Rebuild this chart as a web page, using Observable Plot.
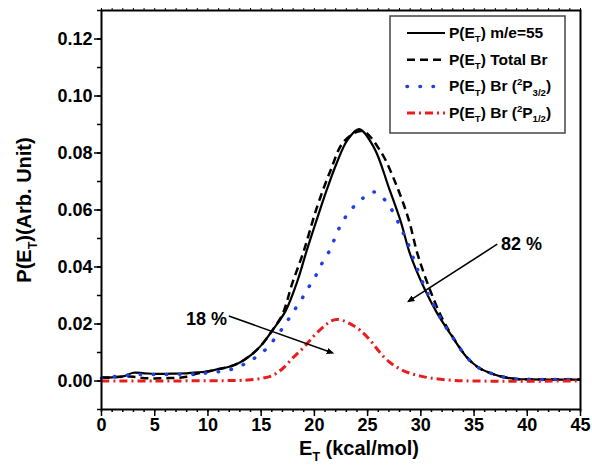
<!DOCTYPE html>
<html><head><meta charset="utf-8">
<script src="https://cdn.jsdelivr.net/npm/d3@7"></script>
<script src="https://cdn.jsdelivr.net/npm/@observablehq/plot@0.6"></script>
<style>body{margin:0;background:#fff;} #chart{width:592px;height:465px;}</style>
</head><body><div id="chart"></div>
<script>
// ---- data ----
const m55X = [0,1,2,3,4,5,6,7,8,9,10,11,12,13,14,15,16,17.3,18.4,19.3,20.3,21.2,22.1,23.1,24.2,25.6,27.0,28.1,29.0,30.3,31.5,32.8,34.35,35.5,36.9,38,39,40,42,45];
const m55Y = [0.0012,0.0013,0.0016,0.0029,0.0027,0.0025,0.0025,0.0026,0.0027,0.003,0.0034,0.0042,0.005,0.0065,0.009,0.0125,0.0175,0.0246,0.035,0.046,0.0575,0.0675,0.0765,0.0845,0.0884,0.0819,0.0678,0.0561,0.0444,0.0327,0.024,0.0164,0.0082,0.0045,0.0023,0.0012,0.0007,0.0006,0.0005,0.0005];

const totalX = [0,1,2,3,4,5,6,7,8,9,10,11,12,13,14,15,16,17.0,17.9,19.0,20.2,21.5,22.8,24.5,26.2,27.8,28.9,29.7,30.9,32,33,34.35,35.5,36.9,38,39,40,42,45];
const totalY = [0.0012,0.0013,0.0015,0.0015,0.001,0.0009,0.001,0.0011,0.0015,0.0026,0.0033,0.0042,0.005,0.0065,0.009,0.0125,0.0175,0.0234,0.034,0.0456,0.0605,0.0737,0.0842,0.0877,0.0807,0.0678,0.0561,0.0444,0.0316,0.022,0.0155,0.0082,0.0045,0.0023,0.0012,0.0007,0.0006,0.0005,0.0005];

const p32X = [0,1,2,3,4,6,8,9.3,10.5,11.8,13.06,14.2,15.4,16.35,17.2,18.0,18.8,19.5,20.2,20.8,21.5,22.0,22.6,23.4,24.5,25.6,26.7,27.5,28.1,28.7,29.5,30.4,31.1,32.0,32.8,34.35,35.5,36.9,38,39,40,42,45];
const p32Y = [0.001,0.0015,0.0019,0.0022,0.0023,0.0023,0.0024,0.0026,0.0031,0.0037,0.0053,0.0076,0.011,0.0152,0.0196,0.0242,0.0287,0.0331,0.0374,0.0419,0.0462,0.0509,0.0556,0.0599,0.064,0.0663,0.0632,0.0585,0.0538,0.0491,0.041,0.0327,0.0275,0.021,0.0164,0.0082,0.0045,0.0023,0.0012,0.0007,0.0006,0.0005,0.0005];

const p12X = [0,5,10,13,14,15,16,17,18,19,20,21,21.6,22.1,22.7,23.5,24.3,25.3,26.05,27,28.1,29,30,31,32.8,35,45];
const p12Y = [0,0,0.0001,0.0002,0.0004,0.0009,0.0018,0.0043,0.0082,0.0118,0.016,0.0195,0.0211,0.0216,0.0212,0.0198,0.0178,0.014,0.0105,0.0068,0.0041,0.0027,0.0017,0.001,0.0003,0,0];

const xMajor = [0,5,10,15,20,25,30,35,40,45];
const xMinor = d3.range(0, 46, 1);
const yMajor = [0,0.02,0.04,0.06,0.08,0.10,0.12];
const yMinor = [-0.01,0,0.01,0.02,0.03,0.04,0.05,0.06,0.07,0.08,0.09,0.10,0.11,0.12,0.13];

const annoLabels = [{x: 9.86, y: 0.0218, text: "18 %"}, {x: 39.46, y: 0.048, text: "82 %"}];
const annoArrows = [{x1: 11.96, y1: 0.0228, x2: 21.67, y2: 0.0099}, {x1: 37.18, y1: 0.048, x2: 28.87, y2: 0.028}];

const series = [
  {key: "m55", x: m55X, y: m55Y, stroke: "#000000", width: 2.2, dash: null, cap: "butt",
   label: [{t: "P(E"}, {t: "T", s: "sub"}, {t: ") m/e=55"}]},
  {key: "total", x: totalX, y: totalY, stroke: "#000000", width: 2.5, dash: "8,5", cap: "butt",
   label: [{t: "P(E"}, {t: "T", s: "sub"}, {t: ") Total Br"}]},
  {key: "p32", x: p32X, y: p32Y, stroke: "#1f3fe6", width: 3.5, dash: "0.5,12.5", cap: "round",
   label: [{t: "P(E"}, {t: "T", s: "sub"}, {t: ") Br ("}, {t: "2", s: "sup"}, {t: "P"}, {t: "3/2", s: "sub"}, {t: ")"}]},
  {key: "p12", x: p12X, y: p12Y, stroke: "#ec1c1c", width: 3, dash: "8,4,2,4", cap: "butt",
   label: [{t: "P(E"}, {t: "T", s: "sub"}, {t: ") Br ("}, {t: "2", s: "sup"}, {t: "P"}, {t: "1/2", s: "sub"}, {t: ")"}]}
];

const font = "'Liberation Sans', Arial, Helvetica, sans-serif";

const lineMarks = series.map(s => Plot.line(s.x.map((x, i) => ({x, y: s.y[i]})), {
  x: "x", y: "y", stroke: s.stroke, strokeWidth: s.width, strokeDasharray: s.dash,
  strokeLinecap: s.cap, curve: "catmull-rom"
}));

const plot = Plot.plot({
  width: 592, height: 465,
  marginLeft: 101, marginRight: 12, marginTop: 10, marginBottom: 56,
  style: {fontFamily: font, fontWeight: "bold", fontSize: "18px", color: "#000", background: "#fff", overflow: "visible"},
  x: {domain: [0, 45]},
  y: {domain: [-0.01, 0.13]},
  marks: [
    Plot.axisX({ticks: xMinor, tickSize: 3, tickFormat: () => "", label: null, strokeWidth: 1.5}),
    Plot.axisX({ticks: xMajor, tickSize: 7, tickPadding: 2, tickFormat: d => String(d), label: null, strokeWidth: 1.5, fontSize: 18}),
    Plot.axisX({anchor: "top", ticks: xMinor, tickSize: 3, tickFormat: () => "", label: null, strokeWidth: 1}),
    Plot.axisY({ticks: yMinor, tickSize: 4, tickFormat: () => "", label: null, strokeWidth: 1.5}),
    Plot.axisY({ticks: yMajor, tickSize: 7, tickPadding: 2, tickFormat: d3.format(".2f"), label: null, strokeWidth: 1.5, fontSize: 18}),
    ...lineMarks,
    Plot.link(annoArrows, {x1: "x1", y1: "y1", x2: "x2", y2: "y2", stroke: "#000", strokeWidth: 1.6, markerEnd: "arrow"}),
    Plot.text(annoLabels, {x: "x", y: "y", text: "text", fontSize: 18, fontWeight: "bold", fill: "#000"}),
    Plot.frame({stroke: "#000", strokeWidth: 2})
  ]
});

const svg = d3.select(plot);
// filled arrowheads
svg.selectAll("marker path").attr("d", "M-5,-3L2,0L-5,3Z").attr("fill", "#000").attr("stroke", "none");

function rich(textSel, parts, size) {
  let cur = 0;
  parts.forEach(p => {
    const target = p.s === "sub" ? size * 0.28 : p.s === "sup" ? -size * 0.42 : 0;
    const ts = textSel.append("tspan").text(p.t).attr("dy", target - cur);
    if (p.s) ts.attr("font-size", size * 0.62);
    cur = target;
  });
}

// axis titles
const xt = svg.append("text").attr("x", 359).attr("y", 455).attr("text-anchor", "middle")
  .attr("font-size", 20).attr("font-weight", "bold").attr("font-family", font).attr("fill", "#000");
rich(xt, [{t: "E"}, {t: "T", s: "sub"}, {t: " (kcal/mol)"}], 20);

const yt = svg.append("text").attr("transform", "translate(31,210) rotate(-90)").attr("text-anchor", "middle")
  .attr("font-size", 20).attr("font-weight", "bold").attr("font-family", font).attr("fill", "#000");
rich(yt, [{t: "P(E"}, {t: "T", s: "sub"}, {t: ")(Arb. Unit)"}], 20);

// legend
const lg = svg.append("g");
lg.append("rect").attr("x", 390).attr("y", 16).attr("width", 175).attr("height", 117)
  .attr("fill", "#fff").attr("stroke", "#444").attr("stroke-width", 1.5);
series.forEach((s, i) => {
  const cy = 33 + i * 26.7;
  lg.append("line").attr("x1", 407).attr("x2", 445).attr("y1", cy).attr("y2", cy)
    .attr("stroke", s.stroke).attr("stroke-width", s.width).attr("stroke-dasharray", s.dash)
    .attr("stroke-linecap", s.cap);
  const t = lg.append("text").attr("x", 449).attr("y", cy + 5).attr("font-size", 15.5)
    .attr("text-anchor", "start")
    .attr("font-weight", "bold").attr("font-family", font).attr("fill", "#000");
  rich(t, s.label, 15.5);
});

document.getElementById("chart").appendChild(plot);
</script>
</body></html>
